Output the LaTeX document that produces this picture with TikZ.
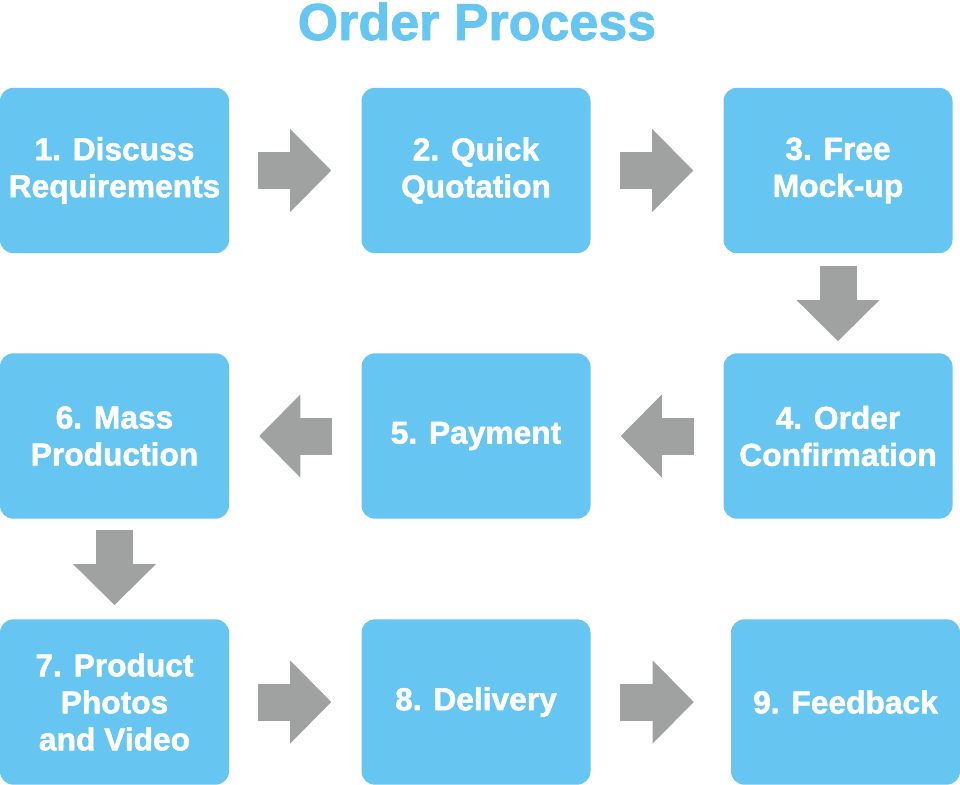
\documentclass[tikz,border=0pt]{standalone}
\usepackage{fontspec}
\setmainfont{Liberation Sans}[BoldFeatures={FakeBold=1.6}]
\usetikzlibrary{arrows.meta, positioning}
\definecolor{oblue}{HTML}{66C5F1}
\definecolor{ogray}{HTML}{A0A2A1}
\tikzset{
  stepbox/.style  = {rectangle, rounded corners=10pt, fill=oblue, text=white,
                     minimum width=171.75pt, minimum height=124pt, inner sep=0pt,
                     align=center, font=\bfseries\fontsize{23.8}{27.75}\selectfont},
  flow/.style     = {draw=ogray, line width=27.75pt, line cap=butt,
                     -{Triangle[length=30.75pt, width=62.25pt, line width=0pt]}},
  hflow/.style    = {flow, shorten <=21.75pt, shorten >=22.5pt},
  vflow/.style    = {flow, shorten <=9.75pt, shorten >=9pt},
  titlelab/.style = {font=\bfseries\fontsize{39}{44}\selectfont, text=oblue,
                     inner sep=0pt},
}

\begin{document}
\begin{tikzpicture}[x=0.75pt, y=-0.75pt]
  \useasboundingbox (0,0) rectangle (960,785);
  \node[titlelab, anchor=base] (title) at (477,40) {Order Process};
  % row 1
  \node[stepbox] (s1) at (114.5,170.5) {1. Discuss\\Requirements};
  \node[stepbox] (s2) at (476,170.5) {2. Quick\\Quotation};
  \node[stepbox] (s3) at (838,170.5) {3. Free\\Mock-up};
  % row 2
  \node[stepbox] (s4) at (838,436) {4. Order\\Confirmation};
  \node[stepbox] (s5) at (476,436) {5. Payment};
  \node[stepbox] (s6) at (114.5,436) {6. Mass\\Production};
  % row 3
  \node[stepbox] (s7) at (114.5,702) {7. Product\\Photos\\and Video};
  \node[stepbox] (s8) at (476,702) {8. Delivery};
  \node[stepbox] (s9) at (845.5,702) {9. Feedback};
  % arrows
  \draw[hflow] (s1) -- (s2);
  \draw[hflow] (s2) -- (s3);
  \draw[vflow] (s3) -- (s4);
  \draw[hflow] (s4) -- (s5);
  \draw[hflow] (s5) -- (s6);
  \draw[vflow, shorten <=8.25pt, shorten >=10.5pt] (s6) -- (s7);
  \draw[hflow] (s7) -- (s8);
  \draw[hflow, shorten >=27.75pt] (s8) -- (s9);
\end{tikzpicture}
\end{document}
